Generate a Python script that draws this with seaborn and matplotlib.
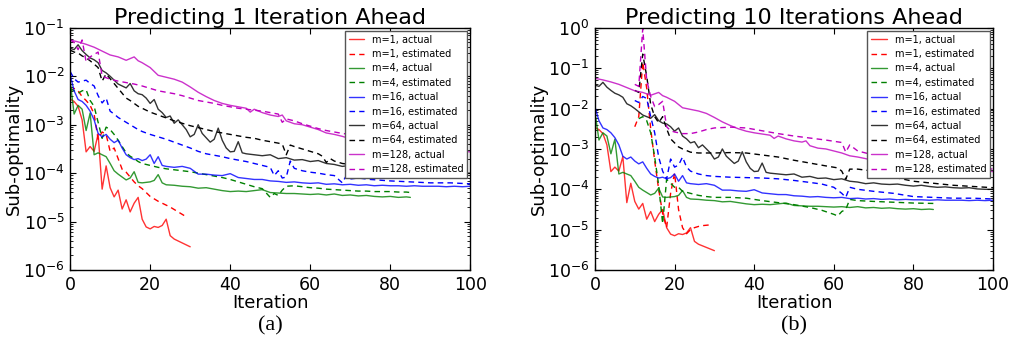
import numpy as np
import pandas as pd
import seaborn as sns
import matplotlib.pyplot as plt
from matplotlib.ticker import LogLocator, NullFormatter

# valores, em log10 da sub-otimalidade
# curvas "actual" (iguais nos dois painéis)
m1_act_it = list(range(31))
m1_act_lg = [-2.47, -2.52, -2.62, -2.9, -3.56, -3.45, -3.55, -3.19, -4.33, -3.85,
             -4.3, -4.49, -4.35, -4.74, -4.55, -4.8, -4.62, -4.5, -4.95, -5.11,
             -5.15, -5.1, -5.12, -5.08, -4.95, -5.29, -5.36, -5.4, -5.44, -5.48, -5.52]

m4_act_it = list(range(25)) + list(range(26, 85, 2)) + [85]
m4_act_lg = [-2.09, -2.78, -2.6, -2.68, -3.12, -2.76, -3.62, -3.58, -3.62, -3.66,
             -3.8, -3.95, -4.02, -4.08, -4.14, -4.1, -3.97, -4.19, -4.2, -4.19,
             -4.18, -4.15, -4.03, -4.2, -4.24,
             -4.25, -4.27, -4.28, -4.31, -4.3, -4.33, -4.36, -4.38, -4.37, -4.38,
             -4.36, -4.34, -4.4, -4.41, -4.42, -4.42, -4.43, -4.44, -4.43, -4.45,
             -4.43, -4.46, -4.45, -4.47, -4.46, -4.48, -4.49, -4.48, -4.5, -4.49, -4.5]

m16_act_it = list(range(25)) + list(range(26, 101, 2))
m16_act_lg = [-1.96, -2.3, -2.48, -2.52, -2.6, -2.72, -2.9, -3.18, -3.25, -3.2,
              -3.3, -3.37, -3.32, -3.48, -3.62, -3.68, -3.72, -3.7, -3.74, -3.71,
              -3.62, -3.8, -3.66, -3.84, -3.86,
              -3.88, -3.86, -3.9, -4.02, -4.02, -4.04, -4.05, -4.01, -4.09, -4.11,
              -4.13, -4.13, -4.16, -4.17, -4.19, -4.18, -4.2, -4.21, -4.2, -4.23,
              -4.22, -4.24, -4.23, -4.25, -4.24, -4.26, -4.25, -4.26, -4.26, -4.27,
              -4.26, -4.27, -4.27, -4.27, -4.28, -4.27, -4.28, -4.27]

m64_act_it = list(range(45)) + list(range(46, 101, 2))
m64_act_lg = [-1.42, -1.45, -1.35, -1.47, -1.55, -1.62, -1.66, -1.72, -1.88, -1.93,
              -2.0, -2.08, -2.16, -2.2, -2.24, -2.15, -2.3, -2.36, -2.38, -2.45,
              -2.56, -2.48, -2.68, -2.75, -2.85, -2.82, -2.97, -2.9, -3.0, -3.1,
              -3.25, -3.2, -3.0, -3.18, -3.27, -3.36, -3.3, -3.07, -3.32, -3.48,
              -3.56, -3.55, -3.35, -3.58, -3.6,
              -3.62, -3.64, -3.62, -3.7, -3.68, -3.73, -3.72, -3.76, -3.74, -3.8,
              -3.82, -3.86, -3.84, -3.87, -3.88, -3.87, -3.9, -3.92, -3.9, -3.93,
              -3.95, -3.94, -3.96, -3.97, -3.96, -3.99, -4.0, -4.0]

m128_act_it = [0, 2, 4, 6, 8, 10, 12, 14, 16, 17, 18, 20, 22, 24, 26, 28, 30, 32, 34,
               36, 38, 40, 42, 44, 45, 46, 48, 50, 52, 53, 54, 56, 58, 60, 62, 64,
               66, 68, 70, 72, 74, 76, 78, 80, 82, 84, 86, 88, 90, 92, 94, 96, 98, 100]
m128_act_lg = [-1.25, -1.29, -1.34, -1.4, -1.48, -1.56, -1.6, -1.67, -1.6, -1.68,
               -1.72, -1.82, -1.98, -2.02, -2.06, -2.12, -2.22, -2.33, -2.42, -2.5,
               -2.56, -2.6, -2.63, -2.66, -2.74, -2.68, -2.75, -2.8, -2.83, -2.8,
               -2.92, -2.98, -3.0, -3.05, -3.1, -3.17, -3.2, -3.24, -3.29, -3.32,
               -3.35, -3.38, -3.4, -3.42, -3.43, -3.45, -3.46, -3.47, -3.49, -3.5,
               -3.52, -3.53, -3.55, -3.56]

# curvas "estimated", painel (a): 1 iteração à frente
a_m1_it = list(range(30))
a_m1_lg = [-2.3, -2.25, -2.3, -2.42, -2.5, -2.6, -2.78, -3.3, -3.15, -3.2,
           -3.55, -3.48, -3.7, -3.92, -3.98, -4.08, -4.18, -4.26, -4.32, -4.4,
           -4.48, -4.53, -4.58, -4.62, -4.66, -4.7, -4.75, -4.8, -4.85, -4.9]

a_m4_it = list(range(19)) + list(range(20, 49, 2)) + [50, 51, 52, 53, 54] + list(range(56, 85, 2)) + [85]
a_m4_lg = [-2.25, -2.3, -2.35, -2.3, -2.28, -2.5, -2.62, -2.95, -3.28, -3.05,
           -3.1, -3.2, -3.32, -3.45, -3.58, -3.65, -3.7, -3.76, -3.8,
           -3.84, -3.88, -3.91, -3.93, -3.95, -3.97, -4.0, -4.03, -4.06, -4.09,
           -4.13, -4.18, -4.23, -4.28, -4.32,
           -4.5, -4.42, -4.46, -4.35, -4.27,
           -4.26, -4.28, -4.3, -4.31, -4.33, -4.34, -4.35, -4.36, -4.37, -4.37,
           -4.38, -4.38, -4.38, -4.39, -4.39, -4.4]

a_m16_it = [0, 1, 2, 3, 4, 5, 6, 7, 8, 9, 10, 11, 12, 13, 14, 15, 16, 17, 18, 20, 22,
            24, 26, 28, 30, 32, 34, 36, 38, 40, 42, 44, 46, 48, 50, 51, 52, 53, 54,
            55, 56, 58, 60, 62, 64, 66, 68, 69, 70, 72, 75, 80, 85, 90, 95, 100]
a_m16_lg = [-1.9, -2.05, -2.12, -2.1, -2.08, -2.15, -2.2, -2.4, -2.55, -2.45,
            -2.72, -2.78, -2.85, -2.9, -2.95, -3.0, -3.05, -3.1, -3.14, -3.2, -3.25,
            -3.3, -3.36, -3.42, -3.48, -3.55, -3.6, -3.63, -3.66, -3.7, -3.73,
            -3.76, -3.8, -3.84, -3.88, -4.05, -3.95, -4.1, -4.08, -3.75, -3.9,
            -3.95, -3.98, -4.0, -4.03, -4.05, -4.2, -4.05, -4.12, -4.1, -4.13,
            -4.16, -4.18, -4.2, -4.2, -4.22]

a_m64_it = [0, 1, 2, 3, 4, 5, 6, 7, 8, 9, 10, 11, 12, 13, 14, 15, 16, 17, 18, 20, 22,
            24, 26, 28, 30, 32, 34, 36, 38, 40, 42, 44, 46, 48, 50, 52, 53, 54, 55,
            56, 58, 60, 62, 63, 64, 65, 66, 68, 70, 72]
a_m64_lg = [-1.46, -1.5, -1.52, -1.58, -1.62, -1.68, -1.75, -1.82, -2.1, -1.95,
            -2.05, -2.15, -2.25, -2.35, -2.45, -2.5, -2.56, -2.62, -2.66, -2.74,
            -2.8, -2.86, -2.92, -2.97, -3.02, -3.06, -3.1, -3.14, -3.17, -3.2,
            -3.23, -3.26, -3.28, -3.32, -3.35, -3.38, -3.4, -3.62, -3.42, -3.45,
            -3.5, -3.55, -3.6, -3.65, -3.78, -3.7, -3.75, -3.8, -3.82, -3.83]

a_m128_it = [0, 1, 2, 3, 4, 5, 6, 7, 8, 9, 10, 11, 12, 14, 16, 18, 20, 22, 24, 26, 28,
             30, 32, 34, 36, 38, 40, 42, 44, 46, 48, 50, 52, 53, 54, 56, 58, 60, 62,
             64, 66, 68, 70, 72]
a_m128_lg = [-1.25, -1.3, -1.45, -1.25, -1.7, -1.6, -1.55, -1.5, -2.0, -2.03,
             -2.06, -2.08, -2.1, -2.13, -2.16, -2.2, -2.25, -2.3, -2.33, -2.36,
             -2.4, -2.45, -2.5, -2.53, -2.56, -2.6, -2.63, -2.66, -2.68, -2.7,
             -2.72, -2.75, -2.78, -2.95, -2.88, -2.92, -2.98, -3.03, -3.08, -3.12,
             -3.15, -3.18, -3.2, -3.22]

# curvas "estimated", painel (b): 10 iterações à frente
b_m1_it = [10, 11, 12, 13, 14, 15, 16, 17, 18, 19, 20, 21, 22, 23, 24, 25, 26, 27, 28, 29]
b_m1_lg = [-2.45, -2.2, -0.85, -1.5, -2.5, -3.3, -4.0, -4.6, -4.95, -4.1,
           -3.6, -4.5, -4.95, -5.1, -5.0, -4.95, -4.92, -4.9, -4.89, -4.88]

b_m4_it = [11, 12, 13, 14, 15, 16, 17, 18, 19, 20, 21, 22, 24, 26, 28, 30, 34, 38,
           42, 46, 50, 54, 57, 60, 61, 62, 63, 64, 66, 70, 75, 80, 85]
b_m4_lg = [-2.25, -2.2, -2.3, -2.6, -3.2, -3.9, -4.85, -3.75, -3.85, -3.95,
           -3.95, -4.05, -4.1, -4.15, -4.18, -4.2, -4.2, -4.22, -4.28, -4.33,
           -4.38, -4.45, -4.52, -4.62, -4.66, -4.55, -4.5, -4.25, -4.28, -4.3,
           -4.32, -4.34, -4.35]

b_m16_it = [10, 11, 12, 13, 14, 15, 16, 17, 18, 19, 20, 21, 22, 23, 24, 26, 28, 30,
            34, 38, 42, 46, 50, 54, 57, 60, 62, 63, 64, 66, 70, 75, 80, 85, 90, 95, 100]
b_m16_lg = [-1.8, -1.85, -1.7, -1.75, -2.2, -2.6, -3.2, -3.55, -3.75, -3.25,
            -3.45, -3.4, -3.2, -3.45, -3.55, -3.62, -3.66, -3.68, -3.7, -3.71,
            -3.72, -3.74, -3.78, -3.83, -3.87, -3.95, -4.1, -4.2, -3.95, -4.0,
            -4.05, -4.1, -4.18, -4.2, -4.22, -4.22, -4.24]

b_m64_it = [10, 11, 12, 13, 14, 15, 16, 17, 18, 19, 20, 21, 22, 24, 26, 28, 30, 34,
            38, 42, 46, 50, 54, 58, 61, 62, 63, 64, 66, 70, 75, 80, 85, 90, 95, 100]
b_m64_lg = [-1.55, -1.6, -0.65, -1.2, -1.9, -2.2, -2.35, -2.2, -2.5, -2.75,
            -2.85, -2.95, -3.0, -3.08, -3.1, -3.1, -3.1, -3.09, -3.1, -3.15,
            -3.2, -3.28, -3.35, -3.42, -3.47, -3.55, -3.75, -3.5, -3.5, -3.55,
            -3.7, -3.8, -3.85, -3.9, -3.93, -3.96]

b_m128_it = [10, 11, 12, 13, 14, 15, 16, 17, 18, 19, 20, 22, 24, 26, 28, 30, 34, 38,
             42, 46, 50, 54, 58, 62, 63, 64, 66, 70, 75, 80, 85, 90, 95, 100]
b_m128_lg = [-1.4, -1.45, -0.02, -1.3, -1.7, -1.95, -1.9, -1.82, -2.45, -2.55,
             -2.58, -2.62, -2.62, -2.58, -2.52, -2.48, -2.46, -2.48, -2.55, -2.62,
             -2.68, -2.73, -2.78, -2.84, -3.08, -2.9, -3.05, -3.15, -3.2, -3.25,
             -3.3, -3.38, -3.45, -3.5]

m_labels = ["1", "4", "16", "64", "128"]
cores = ["#ff0000", "#008000", "#0000ff", "#000000", "#bf00bf"]
actual = [(m1_act_it, m1_act_lg), (m4_act_it, m4_act_lg), (m16_act_it, m16_act_lg),
          (m64_act_it, m64_act_lg), (m128_act_it, m128_act_lg)]
est_a = [(a_m1_it, a_m1_lg), (a_m4_it, a_m4_lg), (a_m16_it, a_m16_lg),
         (a_m64_it, a_m64_lg), (a_m128_it, a_m128_lg)]
est_b = [(b_m1_it, b_m1_lg), (b_m4_it, b_m4_lg), (b_m16_it, b_m16_lg),
         (b_m64_it, b_m64_lg), (b_m128_it, b_m128_lg)]

sns.set_style("ticks")
plt.rcParams.update({
    "font.family": ["DejaVu Sans"],
    "text.color": "black", "axes.labelcolor": "black",
    "xtick.color": "black", "ytick.color": "black",
    "xtick.direction": "in", "ytick.direction": "in",
    "xtick.top": True, "ytick.right": True,
    "xtick.bottom": True, "ytick.left": True,
    "axes.edgecolor": "black", "axes.linewidth": 1.0,
})

fig = plt.figure(figsize=(10.16, 3.48), dpi=100)
ax_a = fig.add_axes([0.069, 0.224, 0.394, 0.696])
ax_b = fig.add_axes([0.5856, 0.224, 0.3918, 0.696])

paineis = [(ax_a, est_a, "Predicting 1 Iteration Ahead", (1e-6, 1e-1), "(a)"),
           (ax_b, est_b, "Predicting 10 Iterations Ahead", (1e-6, 1e0), "(b)")]

for ax, est, titulo, ylim, letra in paineis:
    for m, cor, (xa, ya), (xe, ye) in zip(m_labels, cores, actual, est):
        sns.lineplot(x=xa, y=10 ** np.array(ya), ax=ax, color=cor, lw=1.0, alpha=0.8,
                     errorbar=None, label=f"m={m}, actual")
        sns.lineplot(x=xe, y=10 ** np.array(ye), ax=ax, color=cor, lw=1.0,
                     linestyle=(0, (4, 3)), errorbar=None, label=f"m={m}, estimated")
    ax.set_yscale("log")
    ax.set_xlim(0, 100)
    ax.set_ylim(*ylim)
    ax.set_xticks([0, 20, 40, 60, 80, 100])
    ax.yaxis.set_major_locator(LogLocator(base=10, numticks=20))
    ax.yaxis.set_minor_locator(LogLocator(base=10, subs=np.arange(2, 10), numticks=100))
    ax.yaxis.set_minor_formatter(NullFormatter())
    ax.tick_params(which="major", length=4, width=0.8, labelsize=12.5, pad=4)
    ax.tick_params(which="minor", length=2, width=0.6)
    ax.set_xlabel("Iteration", fontsize=13, labelpad=0)
    ax.set_ylabel("Sub-optimality", fontsize=13, labelpad=0)
    ax.set_title(titulo, fontsize=16, pad=2)
    leg = ax.legend(loc="upper right", fontsize=7, handlelength=1.6, labelspacing=0.45,
                    borderaxespad=0.3, fancybox=False, framealpha=1, edgecolor="#555555")
    leg.set_zorder(10)
    pos = ax.get_position()
    fig.text((pos.x0 + pos.x1) / 2, 0.065, letra, ha="center", va="center",
             fontsize=16, family=["Liberation Serif", "DejaVu Serif"])

fig.savefig("out.png", dpi=100)
